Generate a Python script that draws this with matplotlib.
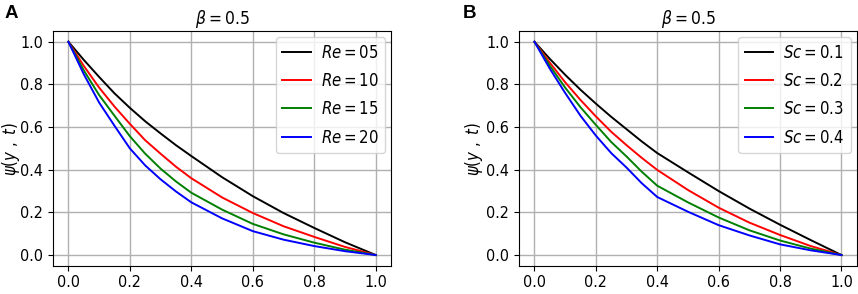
import numpy as np
import matplotlib
matplotlib.use("Agg")
import matplotlib.pyplot as plt

# values
y_pos = [0.0, 0.05, 0.1, 0.15, 0.2, 0.25, 0.3, 0.35, 0.4, 0.5, 0.6, 0.7, 0.8, 0.9, 1.0]

re_labels = ["$Re = 05$", "$Re = 10$", "$Re = 15$", "$Re = 20$"]
re_05 = [1.0, 0.915, 0.835, 0.758, 0.69, 0.627, 0.57, 0.515, 0.464, 0.365, 0.276, 0.197, 0.127, 0.06, 0.0]
re_10 = [1.0, 0.887, 0.785, 0.696, 0.615, 0.538, 0.475, 0.414, 0.36, 0.27, 0.197, 0.135, 0.085, 0.038, 0.0]
re_15 = [1.0, 0.866, 0.75, 0.653, 0.557, 0.475, 0.405, 0.345, 0.292, 0.213, 0.146, 0.097, 0.058, 0.025, 0.0]
re_20 = [1.0, 0.848, 0.715, 0.606, 0.50, 0.42, 0.355, 0.298, 0.247, 0.172, 0.112, 0.072, 0.042, 0.018, 0.0]

sc_labels = ["$Sc = 0.1$", "$Sc = 0.2$", "$Sc = 0.3$", "$Sc = 0.4$"]
sc_01 = [1.0, 0.92, 0.845, 0.775, 0.71, 0.648, 0.59, 0.532, 0.478, 0.388, 0.30, 0.218, 0.142, 0.07, 0.0]
sc_02 = [1.0, 0.902, 0.81, 0.727, 0.65, 0.578, 0.515, 0.455, 0.399, 0.305, 0.222, 0.152, 0.094, 0.042, 0.0]
sc_03 = [1.0, 0.888, 0.785, 0.693, 0.61, 0.53, 0.462, 0.39, 0.325, 0.247, 0.176, 0.116, 0.068, 0.03, 0.0]
sc_04 = [1.0, 0.874, 0.76, 0.653, 0.56, 0.478, 0.41, 0.336, 0.272, 0.203, 0.14, 0.092, 0.05, 0.022, 0.0]

colors = ["black", "red", "green", "blue"]
ticks = [0.0, 0.2, 0.4, 0.6, 0.8, 1.0]

plt.rcParams["font.family"] = "DejaVu Sans"
plt.rcParams["font.stretch"] = "condensed"
plt.rcParams["mathtext.fontset"] = "custom"
plt.rcParams["mathtext.rm"] = "DejaVu Sans:stretch=condensed"
plt.rcParams["mathtext.it"] = "DejaVu Sans:italic:stretch=condensed"

fig = plt.figure(figsize=(8.58, 2.94), dpi=100)
ax1 = fig.add_axes([0.0618, 0.0963, 0.394, 0.798])
ax2 = fig.add_axes([0.605, 0.0963, 0.3936, 0.798])

panels = [
    (ax1, [re_05, re_10, re_15, re_20], re_labels, "A", -0.142, -0.093),
    (ax2, [sc_01, sc_02, sc_03, sc_04], sc_labels, "B", -0.167, -0.1),
]

for ax, series, labels, letter, lx, ylx in panels:
    for vals, lab, c in zip(series, labels, colors):
        ax.plot(y_pos, vals, color=c, lw=1.4, label=lab)
    ax.set_xticks(ticks)
    ax.set_yticks(ticks)
    ax.tick_params(labelsize=11.5)
    ax.grid(True, color="#b0b0b0", lw=1.0)
    ax.set_ylabel(r"$\psi(y\ ,\ t)$", fontsize=12)
    ax.yaxis.set_label_coords(ylx, 0.5)
    ax.set_title(r"$\beta = 0.5$", fontsize=12.5, pad=5)
    ax.legend(loc="upper right", fontsize=12, handlelength=1.7,
              borderaxespad=0.35, labelspacing=0.62, handletextpad=0.6)
    ax.text(lx, 1.077, letter, transform=ax.transAxes, fontsize=13.5,
            fontweight="bold", family="Liberation Sans", va="center")

fig.savefig("out.png", dpi=100)
